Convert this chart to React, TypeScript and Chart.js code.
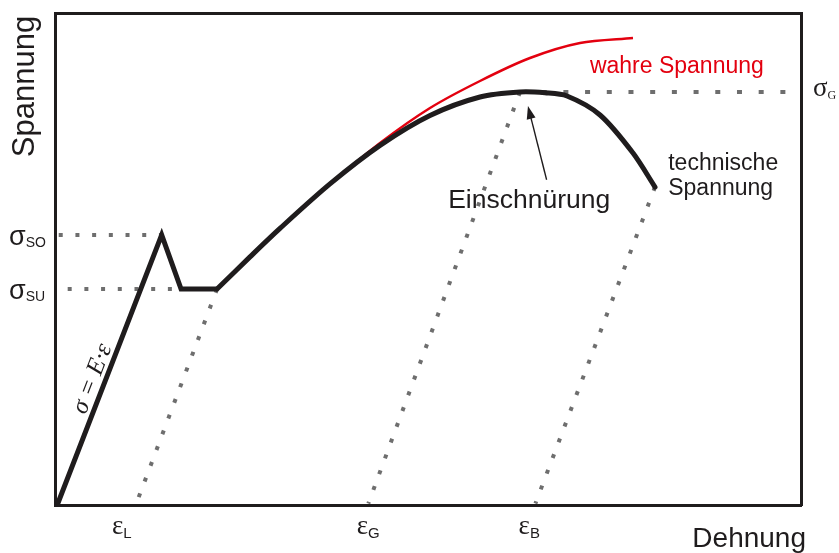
import React, { useEffect, useRef } from 'react';
import { Chart, registerables } from 'chart.js';

Chart.register(...registerables);

// Technische Spannung – Hooke line and yield drop (strain, stress in % of axis)
const elasticStrain = [0.3, 14.3, 16.9, 21.7];
const elasticStress = [0, 54.9, 43.9, 43.9];
// Technische Spannung – hardening and necking
const hardeningStrain = [21.72, 26.14, 30.16, 36.86, 43.57, 50.27, 56.97, 62.33, 65.68, 68.63, 73.06, 77.48, 80.43];
const hardeningStress = [43.9, 50.43, 56.22, 65.26, 73.09, 79.17, 82.93, 83.94, 83.78, 83.13, 79.27, 71.54, 64.63];
// Wahre Spannung
const trueStrain = [36.86, 43.57, 50.27, 56.97, 63.67, 70.38, 77.48];
const trueStress = [65.26, 73.58, 80.69, 86.18, 90.85, 93.9, 94.92];

// characteristic stresses
const sigmaSO = 54.9;
const sigmaSU = 43.9;
const sigmaG = 83.94;
// horizontal guide lines (strain extent)
const soGuideStrain = [0.5, 14.3];
const suGuideStrain = [1.7, 16.9];
const gGuideStrain = [62.33, 99.8];
// unloading lines (parallel to Hooke line)
const unloadLStrain = [21.72, 10.9];
const unloadLStress = [43.9, 0.3];
const unloadGStrain = [62.33, 42.0];
const unloadGStress = [83.94, 0.3];
const unloadBStrain = [80.43, 64.4];
const unloadBStress = [64.63, 0.3];

// strain tick labels
const strainTickValues = [8.8, 41.6, 63.3];
const strainTickSubs = ['L', 'G', 'B'];

// arrow "Einschnürung" (tail -> tip)
const arrowStrain = [65.9, 63.4];
const arrowStress = [66.1, 81.1];

const SANS = '"Liberation Sans", Arial, Helvetica, sans-serif';
const NARROW = '"Liberation Sans Narrow", "Liberation Sans", Arial, sans-serif';
const SERIF = '"Liberation Serif", "Times New Roman", serif';
const INK = '#1f1c1d';
const DOT = '#6e6e6e';
const RED = '#e3000f';

const pts = (xs: number[], ys: number[]) => xs.map((x, i) => ({ x, y: ys[i] }));
const flat = (xs: number[], v: number) => xs.map((x) => ({ x, y: v }));

const annotate = {
  id: 'annotate',
  afterDatasetsDraw(chart: any) {
    const { ctx, chartArea: ca } = chart;
    const xs = chart.scales.x;
    const ys = chart.scales.y;
    const px = (v: number) => xs.getPixelForValue(v);
    const py = (v: number) => ys.getPixelForValue(v);
    ctx.save();
    ctx.fillStyle = INK;
    ctx.textBaseline = 'alphabetic';
    ctx.textAlign = 'left';

    const sub = (main: string, s: string, x: number, base: number, mf: string, sf: string, dy: number) => {
      ctx.font = mf;
      ctx.fillText(main, x, base);
      const w = ctx.measureText(main).width;
      ctx.font = sf;
      ctx.fillText(s, x + w, base + dy);
    };

    // y-axis stress labels
    sub('σ', 'SO', 9, py(sigmaSO) + 10, `27px ${SANS}`, `14px ${SANS}`, 2);
    sub('σ', 'SU', 9, py(sigmaSU) + 10, `27px ${SANS}`, `14px ${SANS}`, 2);
    sub('σ', 'G', ca.right + 12, py(sigmaG) + 4, `27px ${SERIF}`, `12px ${SERIF}`, 3);

    // strain labels
    strainTickValues.forEach((v, i) => {
      ctx.font = `27px ${SERIF}`;
      const w = ctx.measureText('ε').width;
      sub('ε', strainTickSubs[i], px(v) - w / 2 - 3, ca.bottom + 29, `27px ${SERIF}`, `15px ${NARROW}`, 4);
    });

    // axis titles
    ctx.font = `28px ${SANS}`;
    ctx.textAlign = 'right';
    ctx.fillText('Dehnung', ca.right + 5, ca.bottom + 42);
    ctx.save();
    ctx.translate(ca.left - 21, (ca.top + 160) / 2);
    ctx.rotate(-Math.PI / 2);
    ctx.textAlign = 'center';
    ctx.font = `31px ${SANS}`;
    ctx.fillText('Spannung', 0, 0);
    ctx.restore();

    // curve labels
    ctx.textAlign = 'left';
    ctx.fillStyle = RED;
    ctx.font = `23px ${SANS}`;
    ctx.fillText('wahre Spannung', px(71.7), py(87.8));
    ctx.fillStyle = INK;
    ctx.font = `23px ${SANS}`;
    ctx.fillText('technische', px(82.2), py(68.1));
    ctx.fillText('Spannung', px(82.2), py(63.0));
    ctx.font = `26.5px ${SANS}`;
    ctx.fillText('Einschnürung', px(52.7), py(60.4));

    // arrow
    const x0 = px(arrowStrain[0]);
    const y0 = py(arrowStress[0]);
    const x1 = px(arrowStrain[1]);
    const y1 = py(arrowStress[1]);
    const ang = Math.atan2(y1 - y0, x1 - x0);
    const hl = 13;
    const hw = 4.5;
    ctx.strokeStyle = INK;
    ctx.lineWidth = 1.4;
    ctx.beginPath();
    ctx.moveTo(x0, y0);
    ctx.lineTo(x1 - Math.cos(ang) * hl * 0.8, y1 - Math.sin(ang) * hl * 0.8);
    ctx.stroke();
    ctx.beginPath();
    ctx.moveTo(x1, y1);
    ctx.lineTo(x1 - Math.cos(ang) * hl - Math.sin(ang) * hw, y1 - Math.sin(ang) * hl + Math.cos(ang) * hw);
    ctx.lineTo(x1 - Math.cos(ang) * hl + Math.sin(ang) * hw, y1 - Math.sin(ang) * hl - Math.cos(ang) * hw);
    ctx.closePath();
    ctx.fill();

    // Hooke label along the elastic line
    const ax = px(elasticStrain[0]);
    const ay = py(elasticStress[0]);
    const bx = px(elasticStrain[1]);
    const by = py(elasticStress[1]);
    const t = 0.45;
    const lx = ax + (bx - ax) * t;
    const ly = ay + (by - ay) * t;
    ctx.save();
    ctx.translate(lx, ly);
    ctx.rotate(Math.atan2(by - ay, bx - ax));
    ctx.textAlign = 'center';
    ctx.font = `italic 25px ${SERIF}`;
    ctx.fillText('σ = E·ε', 0, -6);
    ctx.restore();

    ctx.restore();
  },
};

export default function App() {
  const ref = useRef<HTMLCanvasElement | null>(null);
  useEffect(() => {
    document.body.style.margin = '0';
    const canvas = ref.current;
    if (!canvas) return;
    const dotted = (data: any[], dash: number[]) => ({
      data,
      showLine: true,
      borderColor: DOT,
      borderWidth: 4,
      borderDash: dash,
      borderCapStyle: 'butt',
      pointRadius: 0,
      tension: 0,
      order: 5,
    });
    const axisBase = {
      type: 'linear',
      min: 0,
      max: 100,
      display: true,
      grid: { display: false, drawTicks: false },
      ticks: { display: false },
      border: { display: true, width: 3, color: INK },
    };
    const chart = new Chart(canvas, {
      type: 'scatter',
      data: {
        datasets: [
          {
            data: pts(elasticStrain, elasticStress),
            showLine: true,
            borderColor: INK,
            borderWidth: 5,
            borderJoinStyle: 'miter',
            borderCapStyle: 'butt',
            pointRadius: 0,
            tension: 0,
            order: 1,
          },
          {
            data: pts(hardeningStrain, hardeningStress),
            showLine: true,
            borderColor: INK,
            borderWidth: 5,
            borderCapStyle: 'round',
            pointRadius: 0,
            tension: 0.3,
            order: 1,
          },
          {
            data: pts(trueStrain, trueStress),
            showLine: true,
            borderColor: RED,
            borderWidth: 2.5,
            pointRadius: 0,
            tension: 0.3,
            order: 3,
          },
          dotted(flat(soGuideStrain, sigmaSO), [4, 12.7]),
          dotted(flat(suGuideStrain, sigmaSU), [4, 12.7]),
          dotted(flat(gGuideStrain, sigmaG), [5, 16.7]),
          dotted(pts(unloadLStrain, unloadLStress), [4, 12.8]),
          dotted(pts(unloadGStrain, unloadGStress), [4, 12.8]),
          dotted(pts(unloadBStrain, unloadBStress), [4, 12.8]),
        ] as any,
      },
      options: {
        animation: false,
        responsive: false,
        devicePixelRatio: 1,
        events: [],
        layout: { padding: { left: 55, top: 13, right: 38, bottom: 48 } },
        plugins: { legend: { display: false }, tooltip: { enabled: false }, title: { display: false } },
        scales: {
          x: { ...axisBase, position: 'bottom' },
          x2: { ...axisBase, position: 'top' },
          y: { ...axisBase, position: 'left' },
          y2: { ...axisBase, position: 'right' },
        } as any,
      },
      plugins: [annotate],
    });
    return () => chart.destroy();
  }, []);
  return (
    <div style={{ position: 'fixed', left: 0, top: 0, width: 839, height: 553, background: '#fff' }}>
      <canvas ref={ref} width={839} height={553} style={{ display: 'block' }} />
    </div>
  );
}
